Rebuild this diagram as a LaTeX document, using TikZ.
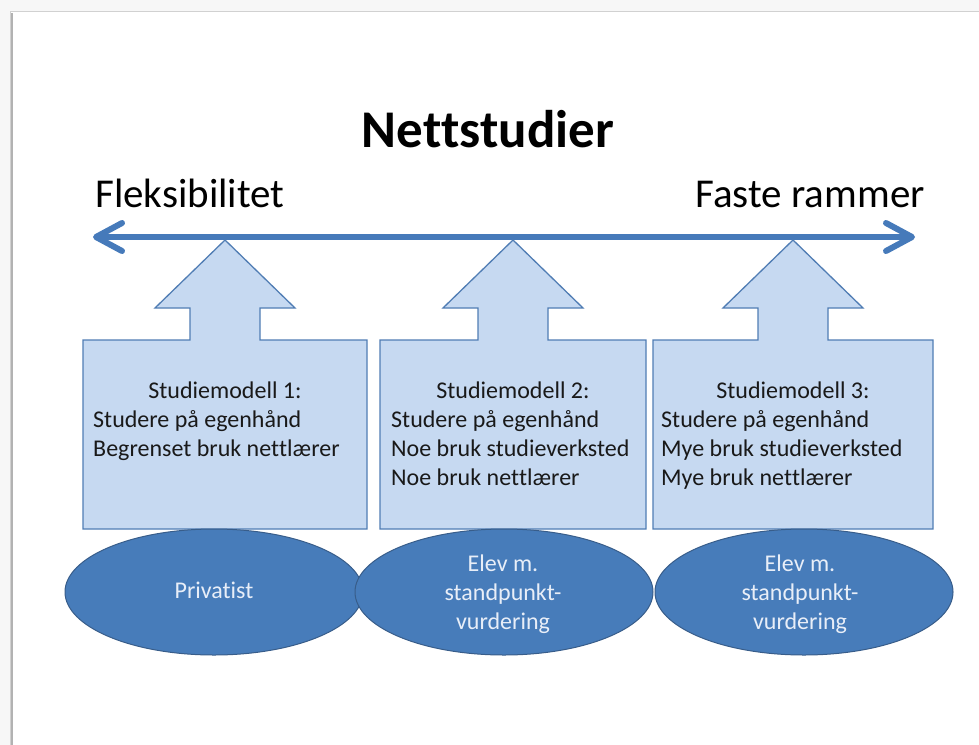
\documentclass[tikz,border=0pt]{standalone}
\usepackage{fontspec}
\setmainfont{Carlito}[Ligatures={NoCommon,NoContextual,NoRare}]
\usetikzlibrary{arrows.meta,shapes.geometric}
\definecolor{linebl}{RGB}{70,122,186}
\definecolor{boxfill}{RGB}{198,217,241}
\definecolor{boxline}{RGB}{80,125,180}
\definecolor{ellfill}{RGB}{71,124,186}
\definecolor{ellline}{RGB}{56,93,138}
\definecolor{txtdark}{RGB}{25,25,25}
\definecolor{elltext}{RGB}{232,238,248}
\begin{document}
\begin{tikzpicture}[x=1pt,y=-1pt,
  titletxt/.style={font=\fontsize{53}{60}\selectfont\bfseries, inner sep=0pt, text=black},
  endtxt/.style={font=\fontsize{41}{48}\selectfont, inner sep=0pt, text=black},
  boxtxt/.style={font=\fontsize{24}{29}\selectfont, inner sep=0pt, text=txtdark},
  elltxt/.style={font=\fontsize{24}{29}\selectfont, text=elltext, align=center},
  callout/.style={draw=boxline, line width=1.3pt, fill=boxfill, line join=miter},
  oval/.style={ellipse, draw=ellline, line width=1pt, fill=ellfill,
               minimum width=298pt, minimum height=126pt, inner sep=0pt},
  axisline/.style={draw=linebl, line width=6pt,
               {Straight Barb[round,length=26pt,width=28pt]}-{Straight Barb[round,length=26pt,width=28pt]}}
]
\useasboundingbox (0,0) rectangle (979,744);
% slide frame
\fill[black!3] (-5,-5) rectangle (990,755);
\fill[white] (10,11) rectangle (990,755);
\draw[black!18, line width=1pt] (10,755) -- (10,11) -- (990,11);
\draw[black!30, line width=2pt] (11.5,13) -- (11.5,755);

% title and end labels
\node[titletxt, anchor=base] (title) at (488,147) {Net\kern0pt tstudier};
\node[endtxt, anchor=base west] (flex) at (95,207) {Fleksibilitet};
\node[endtxt, anchor=base east] (faste) at (925,207) {Faste rammer};

% axis arrow
\coordinate (axL) at (93,237);
\coordinate (axR) at (915,237);
\draw[axisline] (axL) -- (axR);

% up-arrow callouts
\draw[callout] (83,529) -- (83,340) -- (190,340) -- (190,308) -- (155,308) -- (225,240)
  -- (295,308) -- (260,308) -- (260,340) -- (367,340) -- (367,529) -- cycle;
\draw[callout] (380,529) -- (380,340) -- (478,340) -- (478,308) -- (443,308) -- (513,240)
  -- (583,308) -- (548,308) -- (548,340) -- (646,340) -- (646,529) -- cycle;
\draw[callout] (653,529) -- (653,340) -- (758,340) -- (758,308) -- (723,308) -- (793,240)
  -- (863,308) -- (828,308) -- (828,340) -- (933,340) -- (933,529) -- cycle;

% callout texts
\node[boxtxt, anchor=base] (h1) at (225,398) {Studiemodell 1:};
\node[boxtxt, anchor=base west] (a1) at (93,427) {Studere på egenhånd};
\node[boxtxt, anchor=base west] (b1) at (93,456) {Begrenset bruk net\kern0pt tlærer};

\node[boxtxt, anchor=base] (h2) at (513,398) {Studiemodell 2:};
\node[boxtxt, anchor=base west] (a2) at (391,427) {Studere på egenhånd};
\node[boxtxt, anchor=base west] (b2) at (391,456) {Noe bruk studieverksted};
\node[boxtxt, anchor=base west] (c2) at (391,485) {Noe bruk net\kern0pt tlærer};

\node[boxtxt, anchor=base] (h3) at (793,398) {Studiemodell 3:};
\node[boxtxt, anchor=base west] (a3) at (661,427) {Studere på egenhånd};
\node[boxtxt, anchor=base west] (b3) at (661,456) {Mye bruk studieverksted};
\node[boxtxt, anchor=base west] (c3) at (661,485) {Mye bruk net\kern0pt tlærer};

% ellipses
\node[oval] (e1) at (214,592) {};
\node[elltxt] (t1) at (214,590) {Privatist};
\node[oval] (e2) at (504,592) {};
\node[elltxt] (t2) at (503,594) {Elev m.\\standpunkt-\\vurdering};
\node[oval] (e3) at (804,592) {};
\node[elltxt] (t3) at (800,594) {Elev m.\\standpunkt-\\vurdering};
\end{tikzpicture}
\end{document}
